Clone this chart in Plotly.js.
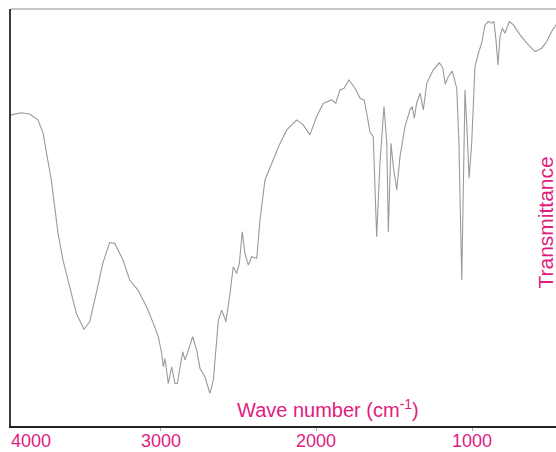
<!DOCTYPE html>
<html>
<head>
<meta charset="utf-8">
<script src="https://cdn.plot.ly/plotly-3.0.1.min.js"></script>
<style>html,body{margin:0;padding:0;background:#fff;}#chart{width:556px;height:452px;}</style>
</head>
<body>
<div id="chart"></div>
<script>
// IR spectrum (wavenumber in cm-1, transmittance in %)
const wavenumber = [3964,3898,3844,3791,3758,3726,3705,3683,3662,3630,
  3587,3544,3495,3458,3416,3373,3330,3297,3244,3201,
  3148,3092,3049,3017,2995,2985,2974,2953,2931,2910,
  2895,2860,2845,2796,2770,2749,2717,2685,2663,2631,
  2609,2582,2556,2535,2513,2496,2477,2460,2438,2417,
  2384,2363,2331,2288,2239,2191,2127,2085,2042,1999,
  1956,1902,1876,1849,1823,1791,1752,1720,1693,1677,
  1656,1635,1624,1613,1592,1566,1548,1538,1521,1506,
  1484,1463,1431,1399,1384,1371,1356,1334,1313,1291,
  1249,1210,1188,1172,1152,1127,1098,1084,1066,1056,
  1045,1030,1019,1002,981,959,938,916,895,873,
  859,846,833,820,805,788,760,734,691,648,
  595,552,520,488,460];
const transmittance = [74.6,75.1,74.8,73.4,70.3,63.8,59.0,52.6,46.3,39.8,
  33.4,27.0,23.2,25.0,31.8,39.1,44.0,43.8,39.8,35.0,
  32.6,28.6,24.6,21.4,17.4,14.2,16.2,10.2,14.2,10.2,
  10.2,17.8,15.8,21.4,18.2,13.8,11.8,7.8,11.0,25.4,
  27.8,25.0,31.8,38.2,36.6,39.0,46.6,41.4,38.6,40.6,
  40.2,49.4,59.0,63.0,67.4,71.0,73.4,72.2,69.8,74.2,
  77.4,78.2,77.4,80.6,81.0,83.0,81.0,78.6,78.2,75.0,
  70.5,69.4,59.0,45.4,63.0,76.6,67.8,46.6,67.8,62.2,
  56.6,64.6,71.8,75.8,76.6,73.8,77.4,79.8,75.8,82.2,
  85.4,87.1,85.8,82.0,83.8,85.1,81.0,67.8,35.0,59.8,
  80.6,69.4,59.4,67.8,86.2,89.4,91.8,96.2,97.0,96.6,
  97.0,92.6,86.6,93.4,95.4,94.2,97.0,96.2,93.8,91.8,
  89.8,90.6,92.2,94.6,96.2];
const tickValues = [3000, 2000, 1000];
const tickLabels = ["3000", "2000", "1000"];
const edgeTickLabel = "4000";
const xTitle = "Wave number (cm<sup>-1</sup>)";
const yTitle = "Transmittance";

const pink = "#e01c80";
const font = "Liberation Sans, Arial, sans-serif";
const labelY = -0.036;

const trace = {
  x: wavenumber, y: transmittance, type: "scatter", mode: "lines",
  line: {color: "#9a9a9a", width: 1.1}, hoverinfo: "skip"
};

const tickAnnotations = tickValues.map((v, i) => ({
  text: tickLabels[i], xref: "x", yref: "paper", x: v, y: labelY,
  xanchor: "center", yanchor: "middle", showarrow: false,
  font: {family: font, size: 18, color: pink}
}));

const layout = {
  width: 556, height: 452,
  margin: {l: 11, r: 0, t: 9, b: 26},
  paper_bgcolor: "#ffffff", plot_bgcolor: "#ffffff",
  showlegend: false,
  xaxis: {
    range: [3964, 460], showgrid: false, zeroline: false,
    showline: true, linecolor: "#222222", linewidth: 2,
    tickmode: "array", tickvals: tickValues, showticklabels: false,
    ticks: "outside", ticklen: 3, tickcolor: "#aaaaaa", tickwidth: 1
  },
  yaxis: {
    range: [0, 100], showgrid: false, zeroline: false,
    showline: true, linecolor: "#433636", linewidth: 2.5,
    showticklabels: false, ticks: ""
  },
  shapes: [
    {type: "line", xref: "paper", yref: "paper", x0: 0, x1: 1, y0: 1, y1: 1,
     line: {color: "#8c8c8c", width: 1}}
  ],
  annotations: tickAnnotations.concat([
    {text: edgeTickLabel, xref: "paper", yref: "paper", x: 0.0367, y: labelY,
     xanchor: "center", yanchor: "middle", showarrow: false,
     font: {family: font, size: 18, color: pink}},
    {text: xTitle, xref: "paper", yref: "paper", x: 0.582, y: 0.042,
     xanchor: "center", yanchor: "middle", showarrow: false,
     font: {family: font, size: 20, color: pink}},
    {text: yTitle, xref: "paper", yref: "paper", x: 0.981, y: 0.487,
     xanchor: "center", yanchor: "middle", textangle: -90, showarrow: false,
     font: {family: font, size: 21, color: pink}}
  ])
};

Plotly.newPlot("chart", [trace], layout, {displayModeBar: false, staticPlot: true});
</script>
</body>
</html>
